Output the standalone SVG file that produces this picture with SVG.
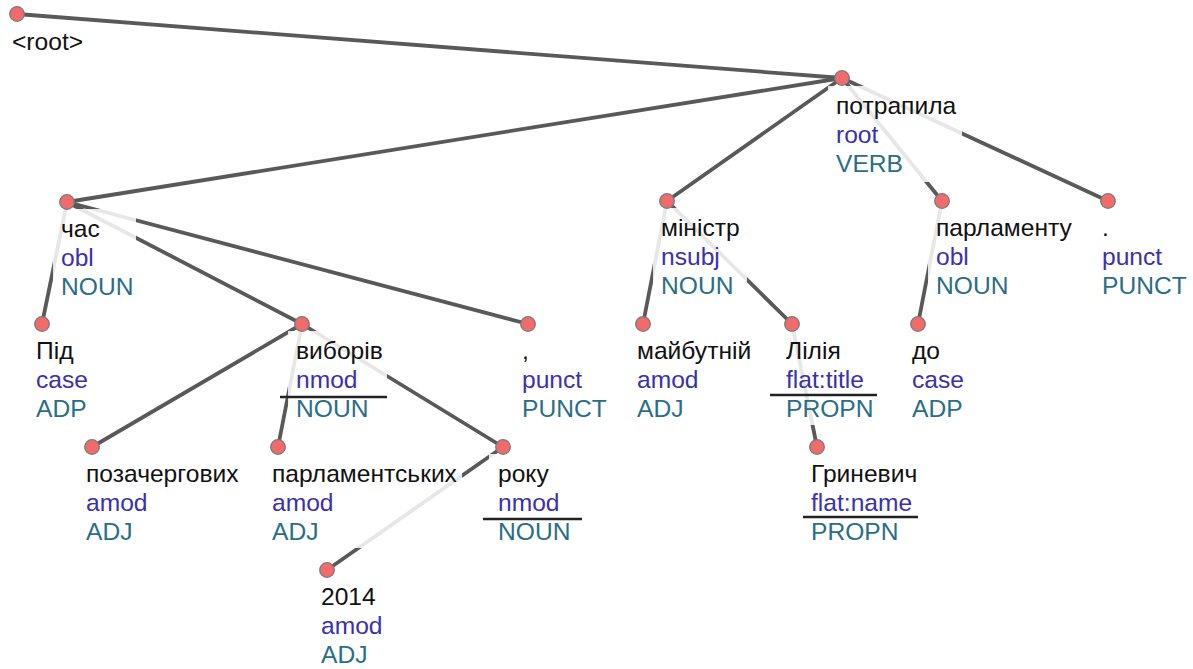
<svg xmlns="http://www.w3.org/2000/svg" width="1193" height="669" viewBox="0 0 1193 669">
<style>
  .e { stroke: #595959; stroke-width: 3.8; fill: none; stroke-linecap: round; }
  .bg { fill: #ffffff; fill-opacity: 0.86; }
  .n { fill: #f26b6b; stroke: #7a7a7a; stroke-width: 1.3; }
  text { font-family: "Liberation Sans", Arial, sans-serif; font-size: 24.6px; }
  .w { fill: #111111; }
  .d { fill: #3a30b0; }
  .p { fill: #2a6e86; }
  .u { stroke: #222222; stroke-width: 2.6; }
</style>
<rect width="1193" height="669" fill="#ffffff"/>
<g id="connectors">
  <line class="e" x1="17" y1="14" x2="842" y2="78"/>
  <line class="e" x1="842" y1="78" x2="67" y2="202"/>
  <line class="e" x1="842" y1="78" x2="667" y2="201"/>
  <line class="e" x1="842" y1="78" x2="942" y2="201"/>
  <line class="e" x1="842" y1="78" x2="1108" y2="201"/>
  <line class="e" x1="67" y1="202" x2="42" y2="324"/>
  <line class="e" x1="67" y1="202" x2="302" y2="324"/>
  <line class="e" x1="67" y1="202" x2="528" y2="324"/>
  <line class="e" x1="302" y1="324" x2="92" y2="447"/>
  <line class="e" x1="302" y1="324" x2="278" y2="447"/>
  <line class="e" x1="302" y1="324" x2="503" y2="447"/>
  <line class="e" x1="503" y1="447" x2="327" y2="570"/>
  <line class="e" x1="667" y1="201" x2="643" y2="324"/>
  <line class="e" x1="667" y1="201" x2="792" y2="324"/>
  <line class="e" x1="792" y1="324" x2="817" y2="447"/>
  <line class="e" x1="942" y1="201" x2="918" y2="324"/>
</g>
<g id="node-root">
  <text class="w" x="12" y="50">&lt;root&gt;</text>
  <circle class="n" cx="17" cy="14" r="7.3"/>
</g>
<g id="node-potrapyla">
  <rect class="bg" x="828" y="86" width="134" height="96"/>
  <text class="w" x="836" y="114">потрапила</text>
  <text class="d" x="836" y="143">root</text>
  <text class="p" x="836" y="172">VERB</text>
  <circle class="n" cx="842" cy="78" r="7.3"/>
</g>
<g id="node-chas">
  <rect class="bg" x="53" y="209" width="83" height="94"/>
  <text class="w" x="61" y="237">час</text>
  <text class="d" x="61" y="266">obl</text>
  <text class="p" x="61" y="295">NOUN</text>
  <circle class="n" cx="67" cy="202" r="7.3"/>
</g>
<g id="node-ministr">
  <rect class="bg" x="653" y="208" width="94" height="94"/>
  <text class="w" x="661" y="236">міністр</text>
  <text class="d" x="661" y="265">nsubj</text>
  <text class="p" x="661" y="294">NOUN</text>
  <circle class="n" cx="667" cy="201" r="7.3"/>
</g>
<g id="node-parlamentu">
  <rect class="bg" x="928" y="208" width="149" height="94"/>
  <text class="w" x="936" y="236">парламенту</text>
  <text class="d" x="936" y="265">obl</text>
  <text class="p" x="936" y="294">NOUN</text>
  <circle class="n" cx="942" cy="201" r="7.3"/>
</g>
<g id="node-dot">
  <rect class="bg" x="1094" y="208" width="95" height="94"/>
  <text class="w" x="1102" y="236">.</text>
  <text class="d" x="1102" y="265">punct</text>
  <text class="p" x="1102" y="294">PUNCT</text>
  <circle class="n" cx="1108" cy="201" r="7.3"/>
</g>
<g id="node-pid">
  <rect class="bg" x="28" y="331" width="62" height="94"/>
  <text class="w" x="36" y="359">Під</text>
  <text class="d" x="36" y="388">case</text>
  <text class="p" x="36" y="417">ADP</text>
  <circle class="n" cx="42" cy="324" r="7.3"/>
</g>
<g id="node-vyboriv">
  <rect class="bg" x="288" y="331" width="99" height="94"/>
  <text class="w" x="296" y="359">виборів</text>
  <text class="d" x="296" y="388">nmod</text>
  <line class="u" x1="280" y1="397" x2="387" y2="397"/>
  <text class="p" x="296" y="417">NOUN</text>
  <circle class="n" cx="302" cy="324" r="7.3"/>
</g>
<g id="node-comma">
  <rect class="bg" x="514" y="331" width="95" height="94"/>
  <text class="w" x="522" y="359">,</text>
  <text class="d" x="522" y="388">punct</text>
  <text class="p" x="522" y="417">PUNCT</text>
  <circle class="n" cx="528" cy="324" r="7.3"/>
</g>
<g id="node-maibutnii">
  <rect class="bg" x="629" y="331" width="126" height="94"/>
  <text class="w" x="637" y="359">майбутній</text>
  <text class="d" x="637" y="388">amod</text>
  <text class="p" x="637" y="417">ADJ</text>
  <circle class="n" cx="643" cy="324" r="7.3"/>
</g>
<g id="node-liliia">
  <rect class="bg" x="778" y="331" width="99" height="94"/>
  <text class="w" x="786" y="359">Лілія</text>
  <text class="d" x="786" y="388">flat:title</text>
  <line class="u" x1="770" y1="395" x2="877" y2="395"/>
  <text class="p" x="786" y="417">PROPN</text>
  <circle class="n" cx="792" cy="324" r="7.3"/>
</g>
<g id="node-do">
  <rect class="bg" x="904" y="331" width="62" height="94"/>
  <text class="w" x="912" y="359">до</text>
  <text class="d" x="912" y="388">case</text>
  <text class="p" x="912" y="417">ADP</text>
  <circle class="n" cx="918" cy="324" r="7.3"/>
</g>
<g id="node-pozachergovykh">
  <rect class="bg" x="78" y="454" width="165" height="94"/>
  <text class="w" x="86" y="482">позачергових</text>
  <text class="d" x="86" y="511">amod</text>
  <text class="p" x="86" y="540">ADJ</text>
  <circle class="n" cx="92" cy="447" r="7.3"/>
</g>
<g id="node-parlamentskykh">
  <rect class="bg" x="264" y="454" width="198" height="94"/>
  <text class="w" x="272" y="482">парламентських</text>
  <text class="d" x="272" y="511">amod</text>
  <text class="p" x="272" y="540">ADJ</text>
  <circle class="n" cx="278" cy="447" r="7.3"/>
</g>
<g id="node-roku">
  <rect class="bg" x="489" y="454" width="84" height="94"/>
  <text class="w" x="498" y="482">року</text>
  <text class="d" x="498" y="511">nmod</text>
  <line class="u" x1="483" y1="519" x2="582" y2="519"/>
  <text class="p" x="498" y="540">NOUN</text>
  <circle class="n" cx="503" cy="447" r="7.3"/>
</g>
<g id="node-hrynevych">
  <rect class="bg" x="803" y="454" width="119" height="94"/>
  <text class="w" x="811" y="482">Гриневич</text>
  <text class="d" x="811" y="511">flat:name</text>
  <line class="u" x1="803" y1="517" x2="918" y2="517"/>
  <text class="p" x="811" y="540">PROPN</text>
  <circle class="n" cx="817" cy="447" r="7.3"/>
</g>
<g id="node-2014">
  <rect class="bg" x="313" y="577" width="72" height="92"/>
  <text class="w" x="321" y="605">2014</text>
  <text class="d" x="321" y="634">amod</text>
  <text class="p" x="321" y="663">ADJ</text>
  <circle class="n" cx="327" cy="570" r="7.3"/>
</g>
</svg>
